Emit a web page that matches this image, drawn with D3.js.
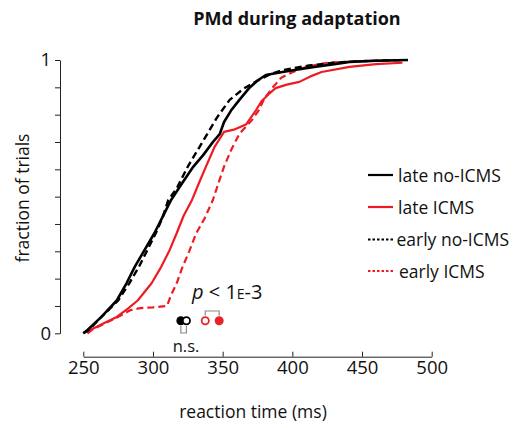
<!DOCTYPE html>
<html>
<head>
<meta charset="utf-8">
<script src="https://cdn.jsdelivr.net/npm/d3@7"></script>
<style>
  body { margin: 0; background: #fff; }
  text { font-family: "Open Sans", "Noto Sans", sans-serif; fill: #111; }
</style>
</head>
<body>
<div id="chart"></div>
<script>
// reaction time (ms) / cumulative fraction pairs
var lateNoIcms = [[250,0],[253,0.012],[263,0.06],[274,0.12],[281,0.183],[287,0.244],[294,0.305],[301,0.366],[307,0.427],[313,0.488],[321,0.55],[329,0.61],[336,0.652],[343,0.70],[348,0.73],[351,0.773],[356,0.815],[362,0.854],[369,0.897],[375,0.925],[381,0.945],[393,0.956],[405,0.966],[417,0.975],[430,0.985],[441,0.993],[460,0.997],[483,1]];
var earlyNoIcms = [[250,0],[254,0.012],[263,0.06],[275,0.12],[283,0.183],[290,0.244],[296,0.305],[302,0.366],[307,0.425],[311,0.488],[317,0.53],[325,0.61],[332,0.67],[339,0.73],[346,0.79],[355,0.854],[365,0.895],[376,0.927],[385,0.95],[393,0.963],[412,0.98],[430,0.99],[450,0.996],[480,1]];
var lateIcms = [[253,0],[255,0.012],[264,0.035],[274,0.06],[282,0.09],[289,0.12],[299,0.183],[306,0.244],[312,0.305],[317,0.366],[322,0.43],[328,0.488],[333,0.55],[338,0.61],[344,0.68],[351,0.737],[358,0.745],[367,0.765],[374,0.817],[378,0.85],[383,0.875],[388,0.897],[396,0.91],[405,0.92],[413,0.94],[421,0.956],[441,0.975],[460,0.985],[479,0.99]];
var earlyIcms = [[253,0],[256,0.012],[265,0.035],[275,0.06],[284,0.085],[291,0.092],[300,0.095],[310,0.10],[313,0.14],[317,0.183],[321,0.24],[326,0.30],[331,0.366],[337,0.42],[343,0.488],[347,0.55],[351,0.61],[356,0.67],[362,0.73],[371,0.78],[376,0.817],[380,0.86],[386,0.9],[392,0.935],[400,0.955],[410,0.975],[425,0.99],[450,0.996],[480,1]];

var xTicks = [250, 300, 350, 400, 450, 500];
var yTicks = [0, 0.1, 0.2, 0.3, 0.4, 0.5, 0.6, 0.7, 0.8, 0.9, 1];
var yTickLabels = {0: "0", 1: "1"};

// summary markers (ms): black late, black early, red early, red late
var markerValues = [320, 324, 337.5, 347.5];
var markerColors = ["#000", "#000", "#e8232a", "#e8232a"];
var markerFilled = [true, false, false, true];

var series = [
  {name: "late no-ICMS", data: lateNoIcms, color: "#000", dash: null, width: 2.6},
  {name: "late ICMS", data: lateIcms, color: "#ed1c24", dash: null, width: 2.2},
  {name: "early no-ICMS", data: earlyNoIcms, color: "#000", dash: "7,4", width: 2.4},
  {name: "early ICMS", data: earlyIcms, color: "#ed1c24", dash: "7,4", width: 2.2}
];

var W = 522, H = 428;
var svg = d3.select("#chart").append("svg")
    .attr("width", W)
    .attr("height", H);

var x = d3.scaleLinear().domain([250, 500]).range([83.3, 431.7]);
var y = d3.scaleLinear().domain([0, 1]).range([333.3, 60]);

// title
svg.append("text")
    .attr("x", 297).attr("y", 25)
    .attr("text-anchor", "middle")
    .style("font-size", "18px").style("font-weight", "bold")
    .text("PMd during adaptation");

// y axis
var yAxis = svg.append("g")
    .attr("transform", "translate(60,0)")
    .call(d3.axisLeft(y).tickValues(yTicks).tickSize(5).tickSizeOuter(0)
        .tickFormat(function(d) { return yTickLabels[d] || ""; }));
yAxis.selectAll("text").style("font-size", "18.5px").attr("x", -9);
yAxis.selectAll("line, path").attr("stroke", "#222").attr("stroke-width", 1);

// x axis, ticks point up
var xAxis = svg.append("g")
    .attr("transform", "translate(0,356.7)")
    .call(d3.axisBottom(x).tickValues(xTicks).tickSize(-5).tickSizeOuter(0));
xAxis.selectAll("text").style("font-size", "18.5px").attr("y", 4);
xAxis.selectAll("line, path").attr("stroke", "#222").attr("stroke-width", 1);

svg.append("text")
    .attr("transform", "translate(29,198) rotate(-90)")
    .attr("text-anchor", "middle")
    .style("font-size", "17.5px")
    .text("fraction of trials");

svg.append("text")
    .attr("x", 253).attr("y", 418)
    .attr("text-anchor", "middle")
    .style("font-size", "17.5px")
    .text("reaction time (ms)");

// curves
var line = d3.line()
    .x(function(d) { return x(d[0]); })
    .y(function(d) { return y(d[1]); });

var drawOrder = [series[3], series[1], series[2], series[0]];
drawOrder.forEach(function(s) {
  svg.append("path")
      .datum(s.data)
      .attr("d", line)
      .attr("fill", "none")
      .attr("stroke", s.color)
      .attr("stroke-width", s.width)
      .attr("stroke-dasharray", s.dash)
      .attr("stroke-linejoin", "round");
});

// legend
var legendY = [175, 207, 239.5, 271];
series.forEach(function(s, i) {
  svg.append("line")
      .attr("x1", 368).attr("x2", 393)
      .attr("y1", legendY[i]).attr("y2", legendY[i])
      .attr("stroke", s.color)
      .attr("stroke-width", 2.2)
      .attr("stroke-dasharray", s.dash ? "2.5,2" : null);
  svg.append("text")
      .attr("x", i < 2 ? 398 : (i == 2 ? 396.5 : 399))
      .attr("y", legendY[i] + 6.5)
      .style("font-size", "17.5px")
      .text(s.name);
});

// markers
var markerY = 320.7;
markerValues.forEach(function(v, i) {
  svg.append("circle")
      .attr("cx", x(v)).attr("cy", markerY)
      .attr("r", markerFilled[i] ? 4.5 : 3.6)
      .attr("fill", markerFilled[i] ? markerColors[i] : "#fff")
      .attr("stroke", markerColors[i])
      .attr("stroke-width", markerFilled[i] ? 0 : 1.8);
});

// brackets
var gray = "#8a8a8a";
svg.append("path")
    .attr("d", "M" + x(markerValues[2]) + ",315.5V311H" + x(markerValues[3]) + "V315.5")
    .attr("fill", "none").attr("stroke", gray).attr("stroke-width", 1.2);
svg.append("path")
    .attr("d", "M" + x(markerValues[0]) + ",326V333H" + x(markerValues[1]) + "V326")
    .attr("fill", "none").attr("stroke", gray).attr("stroke-width", 1.2);

svg.append("text")
    .attr("x", 186).attr("y", 351.5)
    .attr("text-anchor", "middle")
    .style("font-size", "16.5px")
    .text("n.s.");

var pText = svg.append("text")
    .attr("x", 192).attr("y", 299)
    .style("font-size", "20px");
pText.append("tspan").style("font-style", "italic").text("p");
pText.append("tspan").text(" < 1");
pText.append("tspan").style("font-size", "14px").text("E");
pText.append("tspan").text("-3");
</script>
</body>
</html>
